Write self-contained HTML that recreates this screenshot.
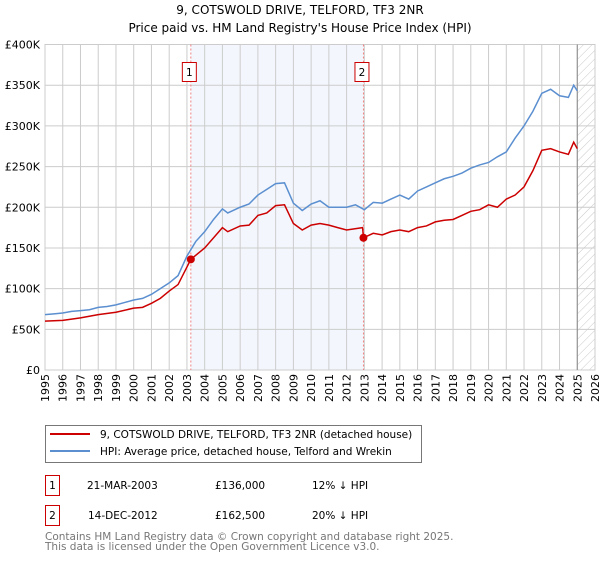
<!DOCTYPE html>
<html><head><meta charset="utf-8"><style>
body{margin:0;background:#fff;font-family:"Liberation Sans","DejaVu Sans",sans-serif;}
svg text{font-family:"DejaVu Sans","Liberation Sans",sans-serif;}
</style></head><body>
<svg id="c" width="600" height="560" xmlns="http://www.w3.org/2000/svg">
<defs><pattern id="hatch" width="6" height="6" patternUnits="userSpaceOnUse" patternTransform="rotate(45)"><line x1="0" y1="0" x2="0" y2="6" stroke="#bbb" stroke-width="0.8"/></pattern></defs>
<text x="300" y="14" text-anchor="middle" font-size="12">9, COTSWOLD DRIVE, TELFORD, TF3 2NR</text>
<text x="300" y="32" text-anchor="middle" font-size="12">Price paid vs. HM Land Registry's House Price Index (HPI)</text>
<g id="plot"></g>
<g>
<rect x="45.5" y="425.5" width="376" height="37" fill="#fff" stroke="#777"/>
<line x1="50" y1="434" x2="90" y2="434" stroke="#cc0000" stroke-width="2"/>
<text x="100" y="438" font-size="10.5">9, COTSWOLD DRIVE, TELFORD, TF3 2NR (detached house)</text>
<line x1="50" y1="451" x2="90" y2="451" stroke="#5b8fd0" stroke-width="2"/>
<text x="100" y="455" font-size="10.5">HPI: Average price, detached house, Telford and Wrekin</text>
</g>
<g font-size="10.5">
<rect x="45.5" y="475.5" width="14" height="20" fill="#fff" stroke="#cc0000"/><text x="52.5" y="489" text-anchor="middle">1</text>
<text x="87" y="489">21-MAR-2003</text><text x="215" y="489">£136,000</text><text x="312" y="489">12% ↓ HPI</text>
<rect x="45.5" y="505.5" width="14" height="20" fill="#fff" stroke="#cc0000"/><text x="52.5" y="519" text-anchor="middle">2</text>
<text x="88" y="519">14-DEC-2012</text><text x="215" y="519">£162,500</text><text x="312" y="519">20% ↓ HPI</text>
</g>
<text x="45" y="540" font-size="10.5" fill="#777">Contains HM Land Registry data © Crown copyright and database right 2025.</text>
<text x="45" y="550" font-size="10.5" fill="#777">This data is licensed under the Open Government Licence v3.0.</text>
</svg>
<script>
const hpiYears=[1995,1995.5,1996,1996.5,1997,1997.5,1998,1998.5,1999,1999.5,2000,2000.5,2001,2001.5,2002,2002.5,2003,2003.5,2004,2004.5,2005,2005.3,2006,2006.5,2007,2007.5,2008,2008.5,2009,2009.5,2010,2010.5,2011,2011.5,2012,2012.5,2013,2013.5,2014,2014.5,2015,2015.5,2016,2016.5,2017,2017.5,2018,2018.5,2019,2019.5,2020,2020.5,2021,2021.5,2022,2022.5,2023,2023.5,2024,2024.5,2024.8,2025];
const hpiValues=[68,69,70,72,73,74,77,78,80,83,86,88,93,100,107,116,140,158,170,185,198,193,200,204,215,222,229,230,205,196,204,208,200,200,200,203,197,206,205,210,215,210,220,225,230,235,238,242,248,252,255,262,268,285,300,318,340,345,337,335,350,343];
const propYears=[1995,1996,1997,1998,1999,2000,2000.5,2001,2001.5,2002,2002.5,2003.22,2004,2005,2005.3,2006,2006.5,2007,2007.5,2008,2008.5,2009,2009.5,2010,2010.5,2011,2011.5,2012,2012.9,2012.95,2013.5,2014,2014.5,2015,2015.5,2016,2016.5,2017,2017.5,2018,2018.5,2019,2019.5,2020,2020.5,2021,2021.5,2022,2022.5,2023,2023.5,2024,2024.5,2024.8,2025];
const propValues=[60,61,64,68,71,76,77,82,88,97,105,136,150,175,170,177,178,190,193,202,203,180,172,178,180,178,175,172,175,162.5,168,166,170,172,170,175,177,182,184,185,190,195,197,203,200,210,215,225,245,270,272,268,265,280,272];
const sales=[{n:"1",year:2003.22,value:136},{n:"2",year:2012.95,value:162.5}];
const yTicks=[0,50,100,150,200,250,300,350,400];
const yLabels=["£0","£50K","£100K","£150K","£200K","£250K","£300K","£350K","£400K"];
const xTicks=[];for(let y=1995;y<=2026;y++)xTicks.push(y);
const L=45,R=595,T=44.5,B=370,X0=1995,X1=2026,YMAX=400;
const sx=v=>L+(v-X0)/(X1-X0)*(R-L), sy=v=>B-v/YMAX*(B-T);
const NS="http://www.w3.org/2000/svg",g=document.getElementById('plot');
function mk(t,a){const e=document.createElementNS(NS,t);for(const k in a)e.setAttribute(k,a[k]);g.appendChild(e);return e;}
let e;
e=mk('rect',{x:sx(sales[0].year),y:T,width:sx(sales[1].year)-sx(sales[0].year),height:B-T,fill:'#eef3fc',opacity:0.7});


e=mk('rect',{x:sx(2025),y:T,width:R-sx(2025),height:B-T,fill:'url(#hatch)'});


xTicks.forEach(v=>{e=mk('line',{x1:sx(v),x2:sx(v),y1:T,y2:B,stroke:'#ccc','stroke-width':1});


e=mk('text',{x:0,y:0,'font-size':11,'text-anchor':'end',transform:`translate(${sx(v)+4},${B+4}) rotate(-90)`});e.textContent=v;

});
yTicks.forEach((v,i)=>{e=mk('line',{x1:L,x2:R,y1:sy(v),y2:sy(v),stroke:'#ccc','stroke-width':1});


e=mk('text',{x:L-5,y:sy(v)+4,'font-size':11,'text-anchor':'end'});e.textContent=yLabels[i];

});
e=mk('rect',{x:L,y:T,width:R-L,height:B-T,fill:'none',stroke:'#ccc'});


e=mk('line',{x1:sx(2025),x2:sx(2025),y1:T,y2:B,stroke:'#888','stroke-width':1});


sales.forEach(s=>{e=mk('line',{x1:sx(s.year),x2:sx(s.year),y1:T,y2:B,stroke:'#f08080','stroke-dasharray':'2,2'});

});
e=mk('path',{d:hpiYears.map((y,i)=>(i?'L':'M')+sx(y)+','+sy(hpiValues[i])).join(''),fill:'none',stroke:'#5b8fd0','stroke-width':1.5});


e=mk('path',{d:propYears.map((y,i)=>(i?'L':'M')+sx(y)+','+sy(propValues[i])).join(''),fill:'none',stroke:'#cc0000','stroke-width':1.5});


sales.forEach(s=>{e=mk('circle',{cx:sx(s.year),cy:sy(s.value),r:4,fill:'#cc0000'});


e=mk('rect',{x:sx(s.year)-8.5,y:62.5,width:14,height:19,fill:'#fff',stroke:'#cc0000'});


e=mk('text',{x:sx(s.year)-1.5,y:76,'font-size':10.5,'text-anchor':'middle'});e.textContent=s.n;

});
</script>
</body></html>
